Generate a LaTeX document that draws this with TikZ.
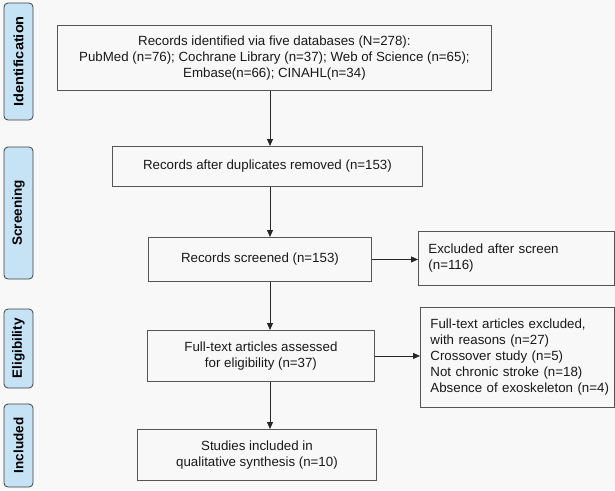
\documentclass[tikz,border=0pt]{standalone}
\usepackage{fontspec}
\setmainfont{Liberation Sans}
\usetikzlibrary{arrows.meta,positioning}
\definecolor{bgc}{HTML}{F8F8F8}
\definecolor{lblfill}{HTML}{C6E2F5}
\definecolor{edgec}{HTML}{555555}
\begin{document}
\begin{tikzpicture}[x=1pt,y=-1pt,
  box/.style={draw=edgec, line width=0.9pt, anchor=north west, inner sep=0pt,
    align=center, font=\fontsize{13.3}{16}\selectfont, text=black!90},
  exbox/.style={draw=edgec, line width=0.9pt, anchor=north west, inner xsep=10pt, inner ysep=0pt,
    align=left, font=\fontsize{13.3}{16}\selectfont, text=black!90},
  stage/.style={draw=black!75, fill=lblfill, rounded corners=4pt, line width=0.8pt},
  stagetext/.style={rotate=90, font=\fontsize{13.5}{15}\selectfont\bfseries, text=black},
  arr/.style={draw=black!85, line width=0.8pt, -{Triangle[length=7pt,width=6pt]}}]
\useasboundingbox[fill=bgc] (0,0) rectangle (615,490);
% stage labels
\draw[stage] (4,3) rectangle (33,120);
\node[stagetext] (l1) at (18.5,61.5) {\scalebox{1.08}[1]{Identification}};
\draw[stage] (4,147) rectangle (33,279);
\node[stagetext] (l2) at (18.5,213) {Screening};
\draw[stage] (4,309) rectangle (33,388);
\node[stagetext] (l3) at (18.5,348.5) {Eligibility};
\draw[stage] (4,404) rectangle (33,487);
\node[stagetext] (l4) at (18.5,445.5) {Included};
% boxes
\node[box, minimum width=434pt, minimum height=65pt] (b1) at (57,25)
  {Records identified via five databases (N=278):\\PubMed (n=76); Cochrane Library (n=37); Web of Science (n=65);\\Embase(n=66); CINAHL(n=34)};
\node[box, minimum width=310pt, minimum height=40pt] (b2) at (112,146)
  {Records after duplicates removed (n=153)};
\node[box, minimum width=223pt, minimum height=44pt] (b3) at (148,237)
  {Records screened (n=153)};
\node[box, minimum width=227pt, minimum height=51pt] (b4) at (147,330)
  {Full-text articles assessed\\for eligibility (n=37)};
\node[box, minimum width=239pt, minimum height=51pt] (b5) at (137,429)
  {Studies included in\\qualitative synthesis (n=10)};
\node[exbox, text width=176pt, minimum height=54pt] (e1) at (418,231)
  {Excluded after screen\\(n=116)};
\node[exbox, text width=174pt, minimum height=100pt] (e2) at (420,307)
  {Full-text articles excluded,\\with reasons (n=27)\\Crossover study (n=5)\\Not chronic stroke (n=18)\\\hbox{Absence of exoskeleton (n=4)}};
% arrows
\coordinate (spine) at (270,0);
\draw[arr] (b1.south -| spine) -- (b2.north -| spine);
\draw[arr] (b2.south -| spine) -- (b3.north -| spine);
\draw[arr] (b3.south -| spine) -- (b4.north -| spine);
\draw[arr] (b4.south -| spine) -- (b5.north -| spine);
\draw[arr] (b3.east) -- (b3.east -| e1.west);
\draw[arr] (b4.east) -- (b4.east -| e2.west);
\end{tikzpicture}
\end{document}
